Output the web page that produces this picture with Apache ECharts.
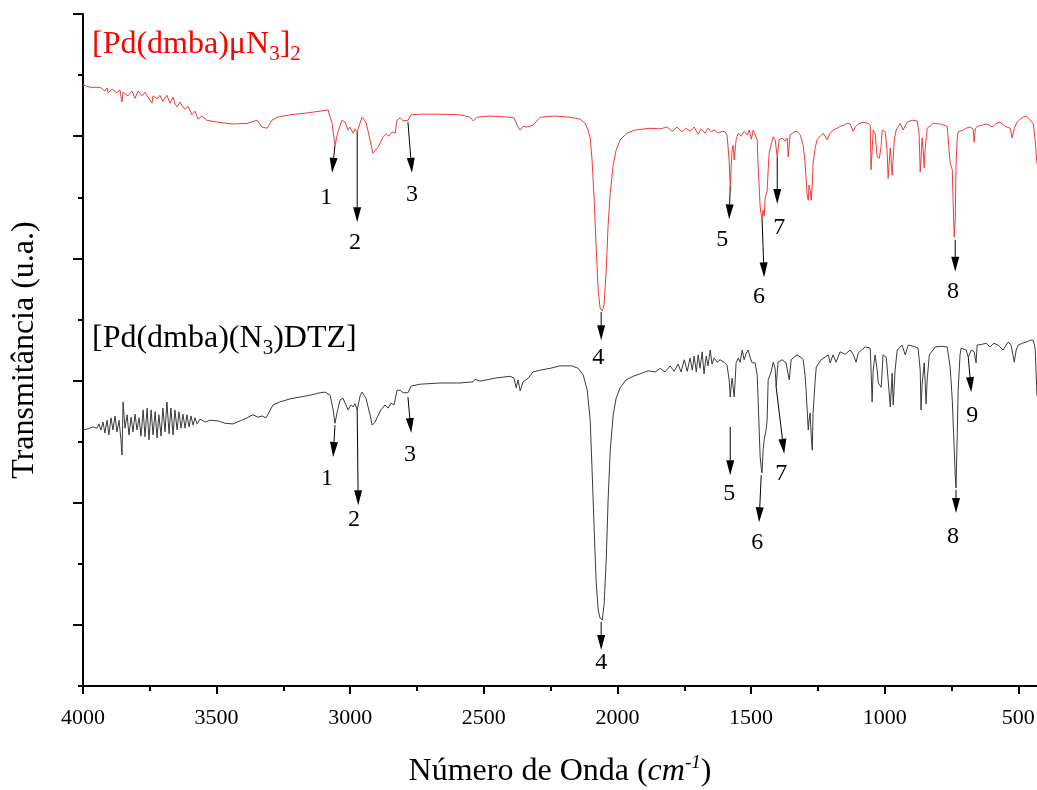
<!DOCTYPE html>
<html>
<head>
<meta charset="utf-8">
<script src="https://cdn.jsdelivr.net/npm/echarts@6/dist/echarts.min.js"></script>
<style>html,body{margin:0;padding:0;background:#fff;}#c{width:1037px;height:790px;}</style>
</head>
<body>
<div id="c"></div>
<script>
// ---- data (wavenumber cm-1, transmittance in arbitrary units) ----
const xMajorTicks = [4000, 3500, 3000, 2500, 2000, 1500, 1000, 500];
const xMinorTicks = [3750, 3250, 2750, 2250, 1750, 1250, 750];
const yMajorTicks = [1, 3, 5, 7, 9, 11];
const yMinorTicks = [0, 2, 4, 6, 8, 10];

const redName = '[Pd(dmba)μN3]2';
const blackName = '[Pd(dmba)(N3)DTZ]';

const redSpectrum = [
[4000,9.84],[3974,9.80],[3936,9.80],[3918,9.74],[3910,9.79],[3906,9.71],[3891,9.77],[3873,9.71],[3862,9.76],[3854,9.56],
[3850,9.72],[3832,9.66],[3817,9.74],[3805,9.62],[3794,9.74],[3779,9.66],[3768,9.72],[3757,9.64],[3742,9.54],[3738,9.66],
[3723,9.61],[3712,9.67],[3701,9.57],[3686,9.67],[3674,9.54],[3663,9.64],[3656,9.53],[3648,9.48],[3637,9.56],[3626,9.48],
[3618,9.44],[3607,9.49],[3592,9.35],[3581,9.41],[3570,9.28],[3555,9.33],[3536,9.26],[3498,9.23],[3439,9.20],[3386,9.21],
[3349,9.26],[3330,9.15],[3311,9.13],[3293,9.26],[3274,9.31],[3225,9.35],[3162,9.38],[3113,9.41],[3083,9.43],[3068,9.21],
[3057,8.85],[3046,9.07],[3031,9.26],[3019,9.23],[3008,9.10],[3001,9.15],[2989,9.05],[2982,9.12],[2974,9.07],[2956,9.31],
[2941,9.23],[2926,8.94],[2915,8.72],[2896,8.82],[2877,8.99],[2866,9.04],[2855,9.00],[2843,9.07],[2832,9.05],[2825,9.26],
[2813,9.30],[2802,9.25],[2795,9.23],[2784,9.26],[2772,9.35],[2739,9.36],[2664,9.36],[2589,9.35],[2551,9.31],[2540,9.25],
[2525,9.31],[2477,9.33],[2402,9.31],[2387,9.30],[2372,9.15],[2364,9.10],[2353,9.16],[2338,9.15],[2316,9.18],[2289,9.31],
[2233,9.33],[2177,9.31],[2140,9.28],[2121,9.21],[2110,9.10],[2102,8.97],[2095,8.61],[2087,7.95],[2080,7.22],[2072,6.48],
[2065,6.19],[2057,6.14],[2050,6.24],[2042,6.81],[2035,7.54],[2027,8.07],[2016,8.53],[2005,8.77],[1990,8.94],[1964,9.05],
[1934,9.10],[1878,9.13],[1840,9.12],[1814,9.15],[1795,9.08],[1777,9.15],[1758,9.07],[1743,9.13],[1728,9.08],[1713,9.15],
[1698,9.03],[1687,9.12],[1672,9.05],[1661,9.13],[1649,9.07],[1638,9.10],[1623,9.05],[1608,9.08],[1597,9.07],[1590,9.02],
[1582,8.61],[1578,8.17],[1574,8.53],[1571,8.77],[1567,8.85],[1563,8.61],[1556,8.94],[1548,9.05],[1537,9.00],[1526,9.08],
[1514,9.02],[1507,9.10],[1499,8.95],[1492,9.10],[1485,9.13],[1477,8.94],[1474,8.56],[1466,7.84],[1462,7.71],[1459,7.66],
[1455,7.79],[1451,7.69],[1447,8.00],[1440,8.09],[1436,8.45],[1432,8.74],[1425,8.85],[1417,8.99],[1410,8.94],[1402,8.66],
[1395,8.94],[1384,8.97],[1372,8.92],[1365,8.97],[1361,8.66],[1354,9.02],[1339,9.07],[1328,9.08],[1316,9.02],[1305,8.85],
[1298,8.56],[1290,8.04],[1286,7.95],[1283,8.20],[1279,8.12],[1275,7.95],[1271,8.20],[1268,8.56],[1260,8.81],[1253,8.94],
[1241,9.00],[1230,9.05],[1223,9.02],[1215,8.94],[1204,9.05],[1193,9.10],[1178,9.13],[1167,9.16],[1152,9.18],[1140,9.21],
[1129,9.20],[1118,9.08],[1110,9.15],[1099,9.20],[1080,9.23],[1062,9.21],[1054,9.18],[1051,8.45],[1043,9.10],[1036,9.05],
[1028,8.66],[1020,8.64],[1013,8.85],[1009,9.10],[998,9.07],[991,8.77],[987,8.31],[979,8.81],[972,8.36],[964,8.94],
[957,9.10],[942,9.21],[931,9.10],[916,9.23],[897,9.26],[878,9.25],[871,9.02],[867,8.41],[864,8.61],[860,8.97],
[856,8.77],[852,8.48],[849,8.77],[841,9.13],[818,9.21],[792,9.20],[766,9.16],[759,8.77],[755,8.56],[747,8.45],
[744,7.95],[740,7.35],[736,7.64],[733,8.53],[729,8.94],[725,9.07],[706,9.10],[695,9.13],[680,9.15],[669,9.12],
[665,8.90],[661,9.12],[654,9.16],[635,9.18],[617,9.20],[598,9.15],[583,9.21],[568,9.23],[549,9.16],[530,9.13],
[523,8.97],[515,9.13],[504,9.23],[493,9.28],[482,9.31],[470,9.33],[459,9.28],[452,9.30],[444,9.21],[437,8.94],[430,8.55]
];

const blackSpectrum = [
[4000,4.19],[3981,4.21],[3963,4.24],[3948,4.22],[3940,4.29],[3933,4.19],[3925,4.32],[3918,4.14],[3910,4.35],[3903,4.11],
[3895,4.39],[3888,4.19],[3880,4.42],[3873,4.16],[3865,4.35],[3858,4.03],[3854,3.78],[3850,4.65],[3843,4.22],[3835,4.44],
[3828,4.11],[3820,4.40],[3813,4.16],[3805,4.45],[3798,4.19],[3790,4.39],[3783,4.09],[3775,4.52],[3768,4.08],[3760,4.55],
[3753,4.03],[3745,4.52],[3738,4.11],[3730,4.49],[3723,4.06],[3716,4.44],[3708,4.09],[3701,4.55],[3693,4.16],[3686,4.65],
[3678,4.13],[3671,4.55],[3663,4.11],[3656,4.52],[3648,4.19],[3641,4.49],[3633,4.22],[3626,4.45],[3618,4.22],[3611,4.44],
[3603,4.24],[3596,4.42],[3588,4.27],[3581,4.39],[3573,4.29],[3562,4.37],[3543,4.32],[3525,4.35],[3495,4.34],[3468,4.30],
[3439,4.29],[3412,4.34],[3386,4.39],[3364,4.44],[3345,4.40],[3330,4.42],[3315,4.39],[3304,4.48],[3289,4.60],[3263,4.65],
[3225,4.70],[3188,4.73],[3150,4.76],[3113,4.80],[3094,4.81],[3075,4.76],[3064,4.52],[3057,4.30],[3049,4.48],[3038,4.68],
[3027,4.71],[3016,4.60],[3008,4.52],[2997,4.60],[2989,4.57],[2982,4.62],[2974,4.52],[2963,4.75],[2956,4.81],[2941,4.71],
[2926,4.44],[2918,4.27],[2907,4.32],[2900,4.39],[2885,4.52],[2870,4.60],[2858,4.55],[2847,4.63],[2836,4.60],[2825,4.84],
[2813,4.84],[2802,4.80],[2795,4.83],[2784,4.80],[2772,4.91],[2739,4.94],[2664,4.96],[2589,4.96],[2540,4.98],[2533,5.02],
[2514,4.99],[2458,5.04],[2402,5.07],[2387,5.04],[2379,4.88],[2372,5.01],[2364,4.83],[2353,4.98],[2334,5.04],[2316,5.14],
[2289,5.17],[2252,5.20],[2215,5.24],[2170,5.24],[2147,5.20],[2128,5.09],[2113,4.84],[2102,4.35],[2095,3.54],[2087,2.55],
[2080,1.73],[2072,1.24],[2065,1.11],[2057,1.08],[2050,1.33],[2042,2.06],[2035,3.04],[2027,3.86],[2016,4.44],[2005,4.71],
[1990,4.88],[1968,5.01],[1941,5.07],[1915,5.11],[1885,5.16],[1859,5.14],[1840,5.20],[1822,5.14],[1803,5.24],[1788,5.15],
[1773,5.27],[1762,5.14],[1750,5.34],[1739,5.15],[1728,5.37],[1720,5.17],[1713,5.40],[1705,5.14],[1698,5.42],[1691,5.20],
[1683,5.47],[1676,5.11],[1668,5.40],[1661,5.24],[1653,5.50],[1646,5.27],[1638,5.37],[1627,5.30],[1616,5.34],[1601,5.30],
[1590,5.25],[1582,5.01],[1578,4.73],[1574,4.93],[1571,5.04],[1567,5.07],[1563,4.73],[1556,5.29],[1548,5.37],[1541,5.30],
[1533,5.50],[1526,5.34],[1518,5.45],[1511,5.50],[1503,5.37],[1496,5.29],[1485,5.29],[1477,5.09],[1474,4.73],[1466,3.75],
[1462,3.57],[1459,3.49],[1455,3.86],[1451,4.03],[1444,4.19],[1440,4.35],[1436,5.01],[1425,5.14],[1417,5.30],[1410,5.20],
[1406,4.89],[1402,5.14],[1399,5.30],[1384,5.34],[1369,5.29],[1357,5.01],[1350,5.34],[1328,5.42],[1313,5.38],[1305,5.34],
[1298,5.09],[1294,4.84],[1286,4.19],[1283,4.35],[1279,4.47],[1275,4.11],[1271,3.86],[1268,4.47],[1260,5.01],[1256,5.22],
[1238,5.34],[1211,5.42],[1204,5.29],[1193,5.42],[1182,5.30],[1167,5.47],[1148,5.43],[1129,5.50],[1118,5.43],[1107,5.30],
[1099,5.45],[1073,5.55],[1054,5.53],[1051,5.17],[1047,4.65],[1043,5.17],[1036,5.42],[1028,5.17],[1024,4.96],[1017,4.94],
[1013,4.89],[1006,5.42],[994,5.38],[987,5.01],[979,4.57],[972,5.12],[968,4.60],[961,5.17],[953,5.50],[935,5.58],
[923,5.42],[912,5.58],[890,5.56],[875,5.53],[867,5.17],[864,4.52],[860,4.93],[852,5.29],[849,5.01],[845,4.62],
[841,5.01],[833,5.42],[811,5.55],[789,5.56],[766,5.55],[755,5.22],[747,4.68],[740,3.91],[736,3.45],[733,3.24],
[729,4.03],[725,4.84],[718,5.42],[714,5.53],[695,5.50],[687,5.38],[676,5.50],[665,5.47],[658,5.29],[654,5.58],
[639,5.59],[620,5.61],[606,5.55],[591,5.61],[575,5.58],[557,5.50],[538,5.63],[527,5.58],[515,5.30],[508,5.50],
[500,5.58],[485,5.61],[470,5.63],[455,5.66],[444,5.66],[437,5.53],[430,4.75]
];

// arrows: [startWn, startT, endWn, endT]
const redArrows = [
[3057,8.85,3068,8.40],[2974,9.07,2974,7.59],[2784,9.23,2769,8.40],[2061,6.12,2061,5.66],
[1578,8.17,1582,7.64],[1459,7.66,1451,6.69],[1402,8.66,1402,7.89],[736,7.30,736,6.78]
];
const blackArrows = [
[3057,4.27,3064,3.75],[2974,4.52,2970,2.96],[2784,4.73,2772,4.14],[2061,1.05,2061,0.59],
[1578,4.24,1578,3.45],[1462,3.45,1470,2.68],[1406,4.89,1376,3.80],[733,3.21,733,2.83],[687,5.38,676,4.81]
];
// peak labels: [wn, T, text]
const redPeakLabels = [
[3090,8.00,'1'],[2982,7.25,'2'],[2769,8.04,'3'],[2072,5.38,'4'],
[1608,7.30,'5'],[1470,6.37,'6'],[1395,7.50,'7'],[744,6.45,'8']
];
const blackPeakLabels = [
[3087,3.40,'1'],[2986,2.72,'2'],[2776,3.78,'3'],[2061,0.38,'4'],
[1582,3.14,'5'],[1477,2.34,'6'],[1387,3.47,'7'],[744,2.44,'8'],[672,4.42,'9']
];

const FONT = 'Liberation Serif';
const chart = echarts.init(document.getElementById('c'), null, {renderer: 'canvas'});

const arrowData = redArrows.concat(blackArrows);
const labelData = redPeakLabels.concat(blackPeakLabels).map(l => ({name: l[2], value: [l[0], l[1]]}));

function renderArrow(params, api) {
  const s = api.coord([api.value(0), api.value(1)]);
  const e = api.coord([api.value(2), api.value(3)]);
  const dx = e[0] - s[0], dy = e[1] - s[1];
  const len = Math.sqrt(dx * dx + dy * dy) || 1;
  const ux = dx / len, uy = dy / len;
  const headL = 15, headW = 4;
  const bx = e[0] - ux * headL, by = e[1] - uy * headL;
  return {
    type: 'group',
    children: [
      {type: 'line', shape: {x1: s[0], y1: s[1], x2: bx, y2: by},
       style: {stroke: '#000', lineWidth: 1}},
      {type: 'polygon', shape: {points: [[e[0], e[1]], [bx - uy * headW, by + ux * headW], [bx + uy * headW, by - ux * headW]]},
       style: {fill: '#000'}}
    ]
  };
}

const baseX = {
  type: 'value', min: 430, max: 4000, inverse: true, position: 'bottom',
  splitLine: {show: false}
};
const baseY = {type: 'value', min: 0, max: 11, position: 'left', splitLine: {show: false}};

chart.setOption({
  animation: false,
  backgroundColor: '#fff',
  grid: {left: 83, right: 0, top: 14, bottom: 104, containLabel: false, outerBoundsMode: 'none'},
  xAxis: [
    Object.assign({}, baseX, {
      axisLine: {show: true, lineStyle: {color: '#000', width: 2}},
      axisTick: {show: true, length: 8, lineStyle: {color: '#000', width: 2}, customValues: xMajorTicks},
      axisLabel: {show: true, customValues: xMajorTicks, formatter: v => String(v), color: '#000',
        fontFamily: FONT, fontSize: 22, margin: 21, showMinLabel: true, showMaxLabel: true, hideOverlap: false},
      name: 'Número de Onda ({i|cm}{sup|-1})',
      nameLocation: 'middle', nameGap: 67,
      nameTextStyle: {color: '#000', fontFamily: FONT, fontSize: 32,
        rich: {i: {fontFamily: FONT, fontSize: 32, fontStyle: 'italic', color: '#000'},
               sup: {fontFamily: FONT, fontSize: 19, fontStyle: 'italic', color: '#000', padding: [0, 0, 18, 0]}}}
    }),
    Object.assign({}, baseX, {
      axisLine: {show: false},
      axisTick: {show: true, length: 5, lineStyle: {color: '#000', width: 2}, customValues: xMinorTicks},
      axisLabel: {show: false}
    })
  ],
  yAxis: [
    Object.assign({}, baseY, {
      axisLine: {show: true, lineStyle: {color: '#000', width: 2}},
      axisTick: {show: true, length: 10, lineStyle: {color: '#000', width: 2}, customValues: yMajorTicks},
      axisLabel: {show: false},
      name: 'Transmitância (u.a.)', nameLocation: 'middle', nameGap: 42,
      nameTextStyle: {color: '#000', fontFamily: FONT, fontSize: 32}
    }),
    Object.assign({}, baseY, {
      axisLine: {show: false},
      axisTick: {show: true, length: 5, lineStyle: {color: '#000', width: 2}, customValues: yMinorTicks},
      axisLabel: {show: false}
    })
  ],
  graphic: [
    {type: 'text', left: 92, top: 29, z: 10,
     style: {text: '{a|[Pd(dmba)μN}{s|3}{a|]}{s|2}', fill: '#ff0000', font: '32px "Liberation Serif"',
       rich: {a: {fontFamily: FONT, fontSize: 32, fill: '#ff0000', lineHeight: 32},
              s: {fontFamily: FONT, fontSize: 21, fill: '#ff0000', padding: [18, 0, 0, 0]}}}},
    {type: 'text', left: 92, top: 323, z: 10,
     style: {text: '{a|[Pd(dmba)(N}{s|3}{a|)DTZ]}', fill: '#000', font: '32px "Liberation Serif"',
       rich: {a: {fontFamily: FONT, fontSize: 32, fill: '#000', lineHeight: 32},
              s: {fontFamily: FONT, fontSize: 21, fill: '#000', padding: [18, 0, 0, 0]}}}}
  ],
  series: [
    {name: redName, type: 'line', data: redSpectrum, showSymbol: false, symbol: 'none',
     lineStyle: {color: '#f23a3a', width: 1}, xAxisIndex: 0, yAxisIndex: 0, z: 3},
    {name: blackName, type: 'line', data: blackSpectrum, showSymbol: false, symbol: 'none',
     lineStyle: {color: '#3a3a3a', width: 1}, xAxisIndex: 0, yAxisIndex: 0, z: 3},
    {type: 'custom', xAxisIndex: 0, yAxisIndex: 0, z: 5, renderItem: renderArrow,
     encode: {x: [0, 2], y: [1, 3]}, data: arrowData, clip: false},
    {type: 'scatter', xAxisIndex: 0, yAxisIndex: 0, symbolSize: 0, z: 6, data: labelData,
     itemStyle: {opacity: 1},
     label: {show: true, position: 'inside', formatter: '{b}', color: '#000', opacity: 1,
       fontFamily: FONT, fontSize: 24, textBorderWidth: 0}}
  ]
});
</script>
</body>
</html>
